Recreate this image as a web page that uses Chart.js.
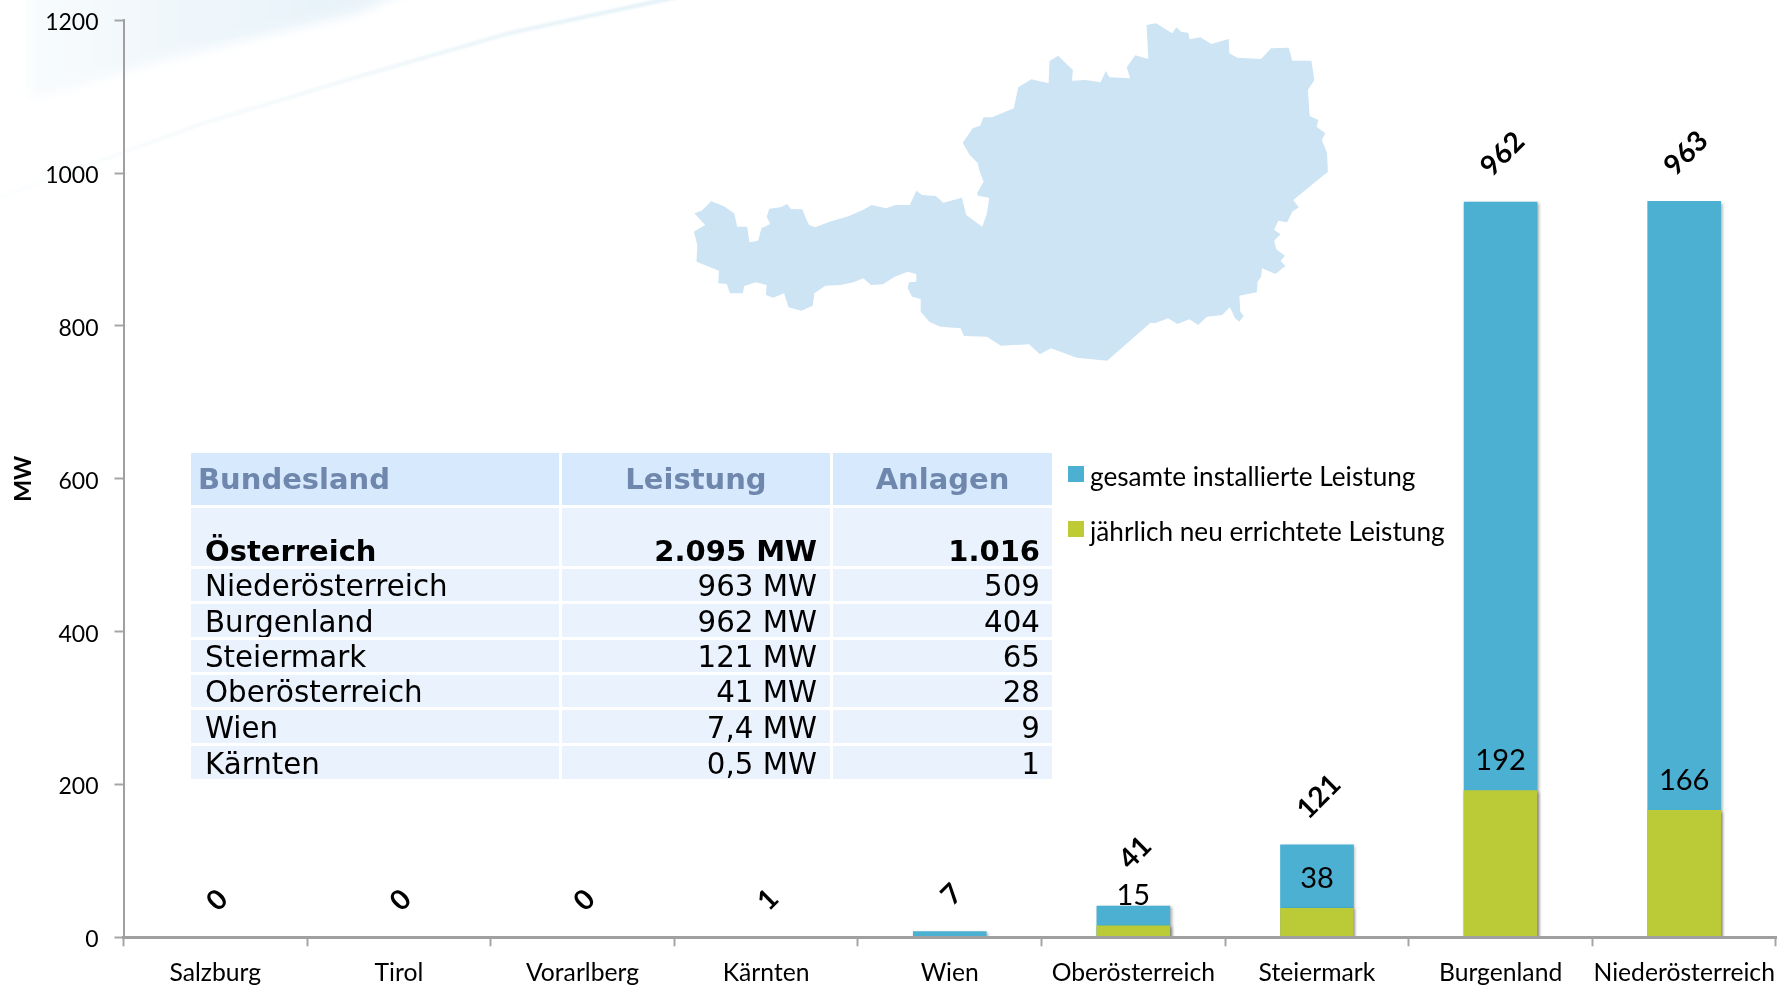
<!DOCTYPE html>
<html lang="de">
<head>
<meta charset="utf-8">
<title>Windkraft in Österreich</title>
<script src="https://cdn.jsdelivr.net/npm/chart.js@4"></script>
<style>
html,body{margin:0;padding:0;background:#fff;width:1777px;height:987px;overflow:hidden}
#stage{position:relative;width:1777px;height:987px;overflow:hidden}
#bg,#c{position:absolute;left:0;top:0}
#c{z-index:2}
#tbl{position:absolute;left:188px;top:450px;z-index:3;border-collapse:separate;border-spacing:3px;table-layout:fixed;
  font-family:"DejaVu Sans",sans-serif;font-size:29.3px;color:#000;line-height:1}
#tbl td,#tbl th{padding:0;background:#eaf2fd;font-weight:400;vertical-align:bottom;white-space:nowrap;overflow:hidden}
#tbl thead th{background:#d7e9fd;color:#6f87ad;font-weight:700;font-size:29px;vertical-align:middle;text-align:center}
#tbl thead th:first-child{text-align:left;padding-left:7px}
#tbl td:first-child{padding-left:14px}
#tbl td:nth-child(2){text-align:right;padding-right:13px}
#tbl td:nth-child(3){text-align:right;padding-right:12px}
#tbl tr.total td{font-weight:700;font-size:29px}
.lg{position:absolute;z-index:3;font-family:Lato,sans-serif;font-size:26.2px;color:#000;white-space:nowrap;line-height:30px}
.sw{position:absolute;z-index:3;width:16px;height:16px}
</style>
</head>
<body>
<div id="stage">
<svg id="bg" width="1777" height="987" xmlns="http://www.w3.org/2000/svg">
  <defs>
    <linearGradient id="sweep" x1="0" y1="0" x2="1" y2="0">
      <stop offset="0" stop-color="#f8fbfd"/>
      <stop offset="0.7" stop-color="#e8f3f9"/>
      <stop offset="1" stop-color="#e8f3f9"/>
    </linearGradient>
    <linearGradient id="streak" gradientUnits="userSpaceOnUse" x1="0" y1="0" x2="680" y2="0">
      <stop offset="0" stop-color="#fbfdfe"/>
      <stop offset="0.5" stop-color="#eef6f9"/>
      <stop offset="1" stop-color="#d8ecf4"/>
    </linearGradient>
    <filter id="soft" x="-20%" y="-20%" width="140%" height="140%"><feGaussianBlur stdDeviation="6"/></filter>
    <filter id="soft2" x="-20%" y="-20%" width="140%" height="140%"><feGaussianBlur stdDeviation="1.5"/></filter>
  </defs>
  <polygon points="30,-20 30,100 153,63 255,37 357,13 433,-20" fill="url(#sweep)" filter="url(#soft)"/>
  <polyline points="0,197 204,123 357,77 510,33 663,0 690,-6" fill="none" stroke="url(#streak)" stroke-width="3" filter="url(#soft2)"/>
  <polygon id="map" fill="#cce4f4" points=""/>
</svg>
<canvas id="c" width="1777" height="987"></canvas>
<table id="tbl">
  <colgroup><col style="width:368px"><col style="width:268px"><col style="width:219px"></colgroup>
  <thead><tr id="thead" style="height:52px"></tr></thead>
  <tbody id="tbody"></tbody>
</table>
<div class="sw" style="left:1068px;top:466px;background:#4bb0d2"></div>
<div class="lg" id="lg1" style="left:1090px;top:461px"></div>
<div class="sw" style="left:1068px;top:521px;background:#becb35"></div>
<div class="lg" id="lg2" style="left:1090px;top:516px"></div>
</div>
<script>
// ---- chart data ----
const categories = ["Salzburg","Tirol","Vorarlberg","Kärnten","Wien","Oberösterreich","Steiermark","Burgenland","Niederösterreich"];
const gesamtLeistung = [0,0,0,0.5,7.4,41,121,962,963];
const neuLeistung = [null,null,null,null,null,15,38,192,166];
const seriesNames = ["gesamte installierte Leistung","jährlich neu errichtete Leistung"];
const yAxisTitle = "MW";

// ---- table data ----
const tableHeader = ["Bundesland","Leistung","Anlagen"];
const tableRegions = ["Österreich","Niederösterreich","Burgenland","Steiermark","Oberösterreich","Wien","Kärnten"];
const tableLeistung = ["2.095 MW","963 MW","962 MW","121 MW","41 MW","7,4 MW","0,5 MW"];
const tableAnlagen = ["1.016","509","404","65","28","9","1"];

// ---- decorative map outline of Austria (not chart data) ----
const mapOutline = [33,640,50,632,72,604,100,618,125,640,132,680,155,680,160,727,180,722,188,685,208,672,200,650,206,626,232,622,247,612,256,627,282,628,292,660,298,675,312,682,345,665,390,648,425,628,442,615,475,625,497,615,530,615,545,572,558,585,590,588,607,608,650,593,660,645,697,680,708,640,713,593,687,587,685,580,700,545,690,510,687,490,668,465,652,428,675,385,692,377,700,352,720,352,770,325,780,262,810,238,850,250,852,183,872,167,906,210,904,242,935,240,970,247,982,213,990,232,1038,235,1030,202,1050,166,1080,177,1076,75,1098,70,1135,100,1145,82,1155,95,1172,98,1175,118,1200,112,1225,132,1265,117,1267,160,1285,173,1340,177,1363,145,1404,143,1412,182,1456,182,1463,240,1448,270,1452,348,1472,360,1468,380,1488,400,1480,420,1492,458,1494,515,1414,600,1427,622,1412,635,1400,667,1380,662,1370,690,1385,703,1370,722,1375,748,1395,767,1385,783,1396,798,1373,822,1342,805,1340,830,1332,845,1330,877,1290,887,1292,935,1300,947,1290,965,1280,955,1268,922,1250,945,1215,950,1195,975,1175,958,1147,972,1125,955,1095,970,1085,968,985,1082,915,1073,855,1045,830,1063,805,1033,740,1037,708,1010,655,1008,647,985,600,980,575,965,555,935,555,897,535,890,525,865,528,847,545,845,545,822,525,815,495,830,468,853,440,855,423,835,400,847,370,855,335,857,310,880,306,917,280,932,250,922,240,880,215,893,198,885,200,855,175,847,148,858,145,880,115,880,108,852,88,850,90,812,38,785,40,735,32,695,58,675];
(function(){
  const pts=[];
  for(let i=0;i<mapOutline.length;i+=2){pts.push((680+mapOutline[i]/2.306).toFixed(1)+","+(mapOutline[i+1]/3).toFixed(1));}
  document.getElementById("map").setAttribute("points",pts.join(" "));
})();

// ---- build table + legend text ----
document.getElementById("thead").innerHTML = tableHeader.map(t=>"<th>"+t+"</th>").join("");
const rowHeights=[58,32,33,32,32,33,33];
document.getElementById("tbody").innerHTML = tableRegions.map((r,i)=>
  '<tr'+(i===0?' class="total"':'')+' style="height:'+rowHeights[i]+'px"><td>'+r+'</td><td>'+tableLeistung[i]+'</td><td>'+tableAnlagen[i]+'</td></tr>').join("");
document.getElementById("lg1").textContent=seriesNames[0];
document.getElementById("lg2").textContent=seriesNames[1];

// ---- plugins ----
const barShadow={
  id:"barShadow",
  beforeDatasetDraw(chart){const c=chart.ctx;c.save();c.shadowColor="rgba(0,0,0,0.32)";c.shadowBlur=3;c.shadowOffsetX=1.5;c.shadowOffsetY=1.5;},
  afterDatasetDraw(chart){chart.ctx.restore();}
};
const liftByDigits={1:37,2:53,3:48};
const valueLabels={
  id:"valueLabels",
  afterDatasetsDraw(chart){
    const c=chart.ctx;
    const gMeta=chart.getDatasetMeta(0), nMeta=chart.getDatasetMeta(1);
    c.save();
    c.fillStyle="#000";c.textAlign="center";c.textBaseline="middle";
    gesamtLeistung.forEach((v,i)=>{
      const bar=gMeta.data[i], t=String(Math.round(v));
      c.save();
      c.translate(bar.x+2,bar.y-liftByDigits[t.length]);
      c.rotate(-Math.PI/4);
      c.font='700 28px Lato, sans-serif';
      c.fillText(t,0,0);
      c.restore();
    });
    c.font='400 29px Lato, sans-serif';
    neuLeistung.forEach((v,i)=>{
      if(v===null)return;
      const bar=nMeta.data[i];
      c.fillText(String(v),bar.x,bar.y-30);
    });
    c.restore();
  }
};

// ---- chart ----
Chart.defaults.font.family="Lato, sans-serif";
new Chart(document.getElementById("c"),{
  type:"bar",
  data:{
    labels:categories,
    datasets:[
      {label:seriesNames[0],data:gesamtLeistung,backgroundColor:ctx=>ctx.raw<1?"rgba(0,0,0,0)":"#4bb0d2",order:2},
      {label:seriesNames[1],data:neuLeistung,backgroundColor:"#bbcb37",order:1}
    ]
  },
  plugins:[barShadow,valueLabels],
  options:{
    responsive:false,animation:false,
    layout:{padding:{top:20.3,right:1,left:0,bottom:0}},
    plugins:{legend:{display:false},tooltip:{enabled:false},title:{display:false}},
    datasets:{bar:{grouped:false,barThickness:73,borderWidth:0}},
    scales:{
      x:{
        offset:true,
        grid:{offset:true,drawOnChartArea:false,drawTicks:true,tickLength:9,tickColor:"#a6a6a6",tickWidth:2},
        border:{color:"#a0a0a0",width:3,z:1},
        ticks:{color:"#000",font:{size:24.7},padding:12,maxRotation:0,minRotation:0,autoSkip:false},
        afterFit(s){s.height=49.7;s.paddingLeft=0;s.paddingRight=0;}
      },
      y:{
        min:0,max:1200,
        grid:{drawOnChartArea:false,drawTicks:true,tickLength:9,tickColor:"#a6a6a6",tickWidth:2},
        border:{color:"#a0a0a0",width:2},
        ticks:{stepSize:200,color:"#000",font:{size:23},padding:16,callback:v=>String(v)},
        title:{display:true,text:yAxisTitle,color:"#000",font:{size:23,weight:"700"},padding:{top:10,bottom:0}},
        afterFit(s){
          s.width=123.5;s.paddingTop=0;s.paddingBottom=0;
          if(!s._labelsNudged){
            s._labelsNudged=true;
            const orig=s._computeLabelItems;
            s._computeLabelItems=function(area){
              const items=orig.call(this,area);
              items.forEach(it=>{it.options.translation=[it.options.translation[0],it.options.translation[1]+2.5];});
              return items;
            };
          }
        }
      }
    }
  }
});
</script>
</body>
</html>
